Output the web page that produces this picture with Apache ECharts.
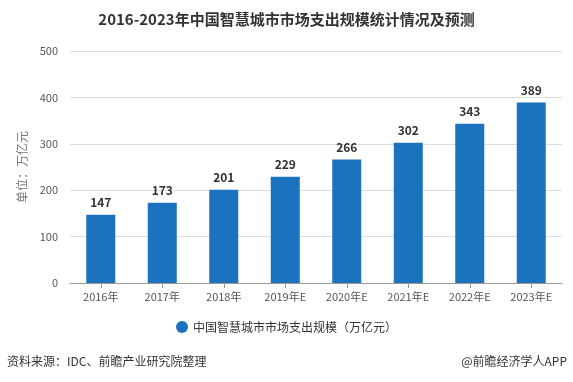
<!DOCTYPE html>
<html><head><meta charset="utf-8">
<script src="https://cdn.jsdelivr.net/npm/echarts@6/dist/echarts.min.js"></script>
<style>html,body{margin:0;padding:0;background:#fff}#c{width:573px;height:382px}</style>
</head><body><div id="c"></div>
<script>
const categories = ['2016年','2017年','2018年','2019年E','2020年E','2021年E','2022年E','2023年E'];
const values = [147,173,201,229,266,302,343,389];
const seriesName = '中国智慧城市市场支出规模（万亿元）';
const yTicks = {min:0,max:500,interval:100};
const chart = echarts.init(document.getElementById('c'));
const ff = '"Noto Sans CJK SC", "Microsoft YaHei", sans-serif';
chart.setOption({
  backgroundColor:'#fff',
  textStyle:{fontFamily:ff},
  title:{text:'2016-2023年中国智慧城市市场支出规模统计情况及预测',left:'center',top:7,
    textStyle:{fontSize:15,fontWeight:'bold',color:'#333',fontFamily:ff}},
  grid:{left:70,right:11,top:51,bottom:99},
  legend:{bottom:44,left:'center',icon:'circle',itemWidth:12,itemHeight:12,
    textStyle:{fontSize:12,color:'#333'},data:[seriesName]},
  xAxis:{type:'category',data:categories,
    axisLine:{lineStyle:{color:'#999'}},axisTick:{show:true,alignWithLabel:true,lineStyle:{color:'#999'}},
    axisLabel:{color:'#555',fontSize:11,margin:8}},
  yAxis:{type:'value',min:yTicks.min,max:yTicks.max,interval:yTicks.interval,
    name:'单位：万亿元',nameLocation:'middle',nameGap:42,nameRotate:90,
    nameTextStyle:{color:'#777',fontSize:12},
    axisLine:{show:false},axisTick:{show:false},
    axisLabel:{color:'#555',fontSize:11,margin:12},
    splitLine:{lineStyle:{color:'#ddd'}}},
  graphic:[
    {type:'text',left:7,bottom:15,style:{text:'资料来源：IDC、前瞻产业研究院整理',fontSize:12,fill:'#333',fontFamily:ff}},
    {type:'text',right:6,bottom:15,style:{text:'@前瞻经济学人APP',fontSize:12,fill:'#333',fontFamily:ff}}
  ],
  series:[{name:seriesName,type:'bar',data:values,barWidth:29,
    itemStyle:{color:'#1b72be'},
    label:{show:true,position:'top',fontWeight:'bold',fontSize:12,color:'#333',distance:6}}]
});
</script></body></html>
